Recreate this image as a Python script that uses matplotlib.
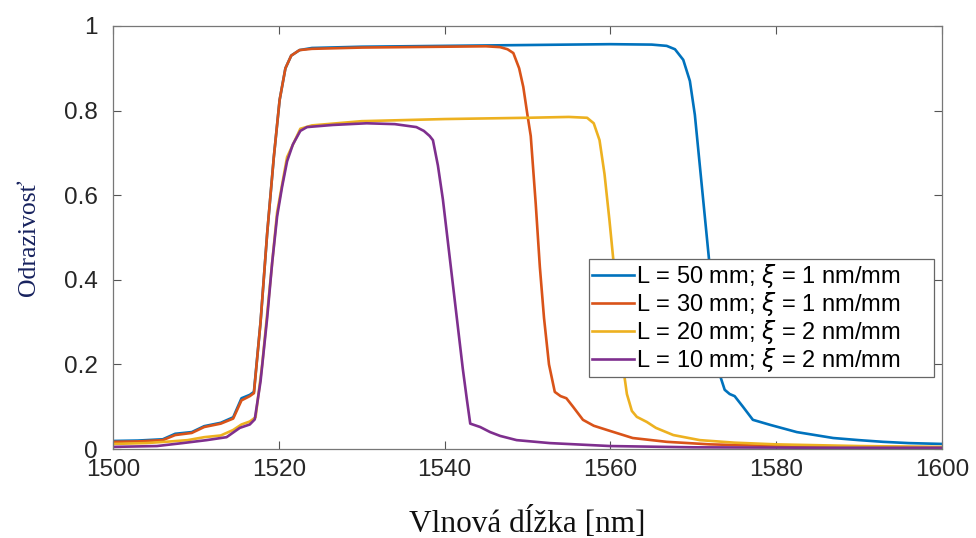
import numpy as np
import matplotlib.pyplot as plt

# spektrálna odrazivosť chirpovaných mriežok (odčítané hodnoty)
lam_50 = [1500, 1503, 1506, 1507.5, 1509.5, 1511, 1513, 1514.5, 1515.5, 1516.5, 1517,
          1517.8, 1518.6, 1519.4, 1520.1, 1520.8, 1521.5, 1522.5, 1524, 1530, 1540, 1550,
          1560, 1565, 1566.8, 1567.8, 1568.8, 1569.6, 1570.2, 1570.8, 1571.4, 1571.9,
          1572.4, 1572.9, 1573.3, 1573.8, 1574.4, 1575, 1576, 1577.2, 1579.3, 1582.5,
          1586.9, 1590, 1592.9, 1596, 1600]
R_50 = [0.019, 0.020, 0.023, 0.036, 0.040, 0.054, 0.062, 0.075, 0.120, 0.128, 0.135,
        0.30, 0.51, 0.69, 0.825, 0.90, 0.93, 0.943, 0.948, 0.951, 0.953, 0.955,
        0.957, 0.956, 0.953, 0.945, 0.92, 0.87, 0.79, 0.67, 0.55, 0.45,
        0.33, 0.22, 0.17, 0.14, 0.13, 0.125, 0.10, 0.069, 0.057, 0.040,
        0.026, 0.021, 0.017, 0.014, 0.012]

lam_30 = [1500, 1503, 1506, 1507.5, 1509.5, 1511, 1513, 1514.5, 1515.5, 1516.5, 1517,
          1517.8, 1518.6, 1519.4, 1520.1, 1520.8, 1521.5, 1522.5, 1524, 1530, 1540, 1545,
          1546.7, 1547.6, 1548.3, 1549, 1549.5, 1550, 1550.4, 1551, 1551.5, 1552, 1552.6,
          1553.3, 1554, 1554.7, 1555.5, 1556.7, 1558, 1559.6, 1562.7, 1566.8, 1572, 1580,
          1590, 1600]
R_30 = [0.017, 0.018, 0.021, 0.033, 0.038, 0.052, 0.060, 0.072, 0.115, 0.125, 0.132,
        0.30, 0.51, 0.69, 0.825, 0.90, 0.93, 0.943, 0.946, 0.949, 0.951, 0.952,
        0.950, 0.945, 0.936, 0.90, 0.856, 0.79, 0.74, 0.58, 0.43, 0.31, 0.20,
        0.135, 0.125, 0.12, 0.10, 0.069, 0.055, 0.045, 0.026, 0.017, 0.011, 0.007,
        0.005, 0.004]

lam_20 = [1500, 1504, 1507, 1509, 1511, 1513, 1514.5, 1515.5, 1516.5, 1517.2, 1518,
          1518.6, 1519.8, 1521, 1522.6, 1524, 1530, 1540, 1550, 1555, 1557.2, 1558,
          1558.7, 1559.3, 1559.9, 1560.5, 1561, 1561.5, 1562, 1562.6, 1563.2, 1564.4,
          1565.5, 1567.6, 1570.8, 1575, 1580, 1590, 1600]
R_20 = [0.012, 0.014, 0.018, 0.021, 0.028, 0.032, 0.045, 0.058, 0.065, 0.075, 0.20,
        0.32, 0.56, 0.69, 0.757, 0.765, 0.775, 0.780, 0.783, 0.785, 0.783, 0.77,
        0.73, 0.65, 0.54, 0.42, 0.30, 0.20, 0.13, 0.09, 0.076, 0.064,
        0.050, 0.033, 0.021, 0.015, 0.011, 0.007, 0.005]

lam_10 = [1500, 1505.3, 1508.4, 1511.3, 1513.7, 1515.3, 1516.5, 1517.1, 1517.8, 1518.6,
          1519.2, 1519.8, 1520.4, 1521, 1521.7, 1522.6, 1523.4, 1526.5, 1530.6, 1534,
          1536.6, 1537.5, 1538.2, 1538.6, 1539.2, 1539.8, 1540.4, 1541, 1541.6, 1542.2,
          1542.7, 1543.1, 1544.3, 1545.5, 1546.7, 1548.7, 1552.7, 1560, 1570, 1585, 1600]
R_10 = [0.005, 0.007, 0.014, 0.021, 0.028, 0.050, 0.058, 0.070, 0.16, 0.31,
        0.44, 0.55, 0.62, 0.68, 0.72, 0.752, 0.761, 0.766, 0.770, 0.768,
        0.761, 0.752, 0.74, 0.73, 0.67, 0.59, 0.49, 0.39, 0.29, 0.19,
        0.116, 0.06, 0.052, 0.040, 0.031, 0.021, 0.014, 0.007, 0.004, 0.003, 0.003]

labels = ["L = 50 mm; $\\xi$ = 1 nm/mm",
          "L = 30 mm; $\\xi$ = 1 nm/mm",
          "L = 20 mm; $\\xi$ = 2 nm/mm",
          "L = 10 mm; $\\xi$ = 2 nm/mm"]
colors = ['#0072BD', '#D95319', '#EDB120', '#7E2F8E']

plt.rcParams['font.family'] = ['Liberation Sans', 'DejaVu Sans']
plt.rcParams['mathtext.fontset'] = 'dejavusans'

fig = plt.figure(figsize=(9.76, 5.38), dpi=100)
ax = fig.add_axes([0.1158, 0.1654, 0.8492, 0.7863])

series = [(lam_50, R_50), (lam_30, R_30), (lam_20, R_20), (lam_10, R_10)]
for (x, y), c, lab in zip(series, colors, labels):
    ax.plot(x, y, color=c, lw=1.9, label=lab)

ax.set_xlim(1500, 1600)
ax.set_ylim(0, 1)
ax.set_xticks(np.arange(1500, 1601, 20))
ax.set_yticks([0, 0.2, 0.4, 0.6, 0.8, 1])
ax.set_yticklabels(['0', '0.2', '0.4', '0.6', '0.8', '1'])
ax.tick_params(direction='in', top=True, right=True, length=6, width=0.8,
               color='#555555', labelsize=17.5, labelcolor='#262626')
ax.tick_params(axis='y', pad=11)
ax.tick_params(axis='x', pad=7)
for s in ax.spines.values():
    s.set_color('#777777')
    s.set_linewidth(0.9)

ax.set_xlabel('Vlnová dĺžka [nm]', family='Liberation Serif', fontsize=22.5,
              color='#111111', labelpad=19)
ax.set_ylabel('Odrazivosť', family='Liberation Serif', fontsize=18.5,
              color='#17225e', labelpad=17)

# legenda roztiahnutá do šírky rámika (mode='expand')
leg = ax.legend(loc='lower left', bbox_to_anchor=(0.574, 0.17, 0.417, 0.27),
                mode='expand', borderaxespad=0,
                fontsize=17, fancybox=False, framealpha=1, edgecolor='#666666',
                handlelength=1.8, handletextpad=0.1, labelspacing=0.0,
                borderpad=0.12)
leg.get_frame().set_linewidth(0.9)

fig.savefig('out.png', dpi=100, facecolor='white')
